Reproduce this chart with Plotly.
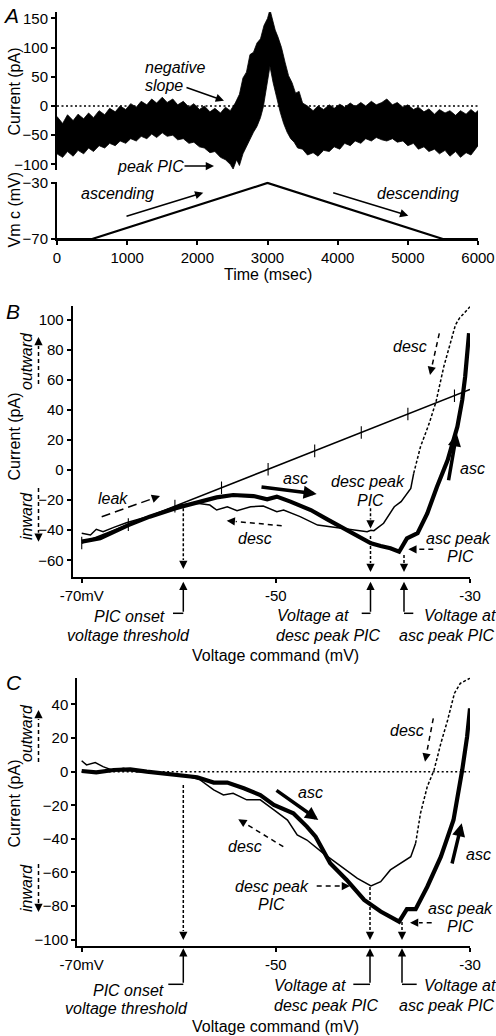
import math
import plotly.graph_objects as go

W, H = 496, 1036
FONT = "Liberation Sans"

# ---------------- DATA ----------------
# Panel A: current trace envelope (noisy record), time in ms, current in pA
upper_time = [0, 80, 150, 230, 300, 380, 450, 520, 600, 680, 750, 830, 900, 980, 1050, 1130, 1200, 1280,
              1350, 1420, 1500, 1570, 1650, 1720, 1800, 1880, 1950, 2030, 2100, 2180, 2250, 2330, 2400, 2470,
              2540, 2600, 2650, 2700, 2750, 2800, 2850, 2900, 2950, 3000, 3035, 3070, 3110, 3150, 3200, 3250,
              3300, 3350, 3400, 3450, 3500, 3570, 3650, 3720, 3800, 3880, 3950, 4030, 4100, 4180, 4250, 4330,
              4400, 4480, 4550, 4630, 4700, 4780, 4850, 4930, 5000, 5080, 5150, 5230, 5300, 5380, 5450, 5530,
              5600, 5680, 5750, 5830, 5900, 5960, 6000]
upper_current = [-18, -30, -15, -25, -14, -22, -12, -20, -8, -15, -4, -10, 0, -6, 4, -2, 8, 2,
                 12, 5, 15, 6, 12, 2, 8, -2, 4, -6, 0, -10, -4, -12, -2, -8,
                 5, 20, 48, 58, 88, 92, 108, 115, 138, 150, 165, 150, 130, 118, 100, 75,
                 52, 40, 22, 25, 5, 0, -8, 0, -6, 2, -4, 3, -2, 5, -1, 6,
                 0, 8, 2, 6, 12, 2, 6, -2, 2, -6, -2, -10, -5, -14, -6, -12,
                 -8, -16, -8, -14, -6, -12, -8]
lower_time = [0, 80, 150, 230, 300, 380, 450, 520, 600, 680, 750, 830, 900, 980, 1050, 1130, 1200, 1280,
              1350, 1420, 1500, 1570, 1650, 1720, 1800, 1880, 1950, 2030, 2100, 2180, 2250, 2330, 2400, 2470,
              2510, 2560, 2600, 2650, 2700, 2750, 2800, 2850, 2900, 2940, 2990, 3035, 3080, 3130, 3180, 3230,
              3280, 3330, 3380, 3430, 3500, 3570, 3650, 3720, 3800, 3880, 3950, 4030, 4100, 4180, 4250, 4330,
              4400, 4480, 4550, 4630, 4700, 4780, 4850, 4930, 5000, 5080, 5150, 5230, 5300, 5380, 5450, 5530,
              5600, 5680, 5750, 5830, 5900, 5960, 6000]
lower_current = [-82, -88, -78, -86, -76, -82, -72, -78, -68, -72, -64, -68, -60, -64, -56, -60, -52, -56,
                 -48, -54, -46, -52, -50, -58, -56, -64, -62, -70, -72, -80, -78, -88, -92, -100,
                 -108, -92, -102, -82, -68, -58, -45, -35, -20, -2, 35, 68, 40, 15, -10, -30,
                 -45, -56, -62, -72, -74, -84, -80, -86, -76, -78, -70, -74, -64, -68, -60, -64,
                 -56, -60, -54, -58, -60, -56, -62, -60, -68, -64, -74, -70, -78, -74, -82, -76,
                 -86, -78, -88, -80, -84, -74, -68]
zero_time = [0, 6000]
zero_current = [0, 0]
ramp_time = [0, 500, 3000, 5500, 6000]
ramp_vm = [-70, -70, -30, -70, -70]

# Panel B: I-V relation (mV, pA)
b_asc_v = [-70, -68.1, -65.2, -63, -60.4, -57.8, -56.1, -54.4, -52.3, -50.9, -49.9, -48.5, -46.4, -44.7,
           -42.7, -41.3, -40.2, -39.2, -38.2, -37.3, -36.5, -35.4, -34.4, -33.4, -32.3, -31.3, -30.8, -30.5, -30.1]
b_asc_i = [-47.6, -45.4, -36.6, -31, -25.5, -21, -18.2, -16.6, -17.3, -19.5, -17.7, -21, -26.6, -32.8,
           -39.9, -44.3, -48.7, -50.5, -52, -54.3, -45.4, -42, -28.8, -11.1, 6.6, 28.8, 46.5, 62, 90.9]
b_desc_v = [-70, -69.1, -68.5, -67.8, -66.7, -65.4, -62.6, -59.9, -58.1, -56.8, -56.1, -55, -54, -52.6,
            -51.3, -49.9, -49.2, -47.5, -45.7, -44, -42.3, -40.6, -40.2, -39.9, -38.9, -37.8, -37.1, -36.1, -35.8]
b_desc_i = [-42, -43.2, -39.4, -41, -38.1, -35, -29.9, -23.3, -22.1, -23.3, -26.6, -24.4, -27, -24.4,
            -23.9, -27.7, -26.6, -31, -36.6, -38.1, -39.4, -41, -40, -40.3, -35.4, -24.4, -21, -12.2, -2.2]
b_desc_dot_v = [-35.8, -35.1, -34.2, -33.5, -32.7, -32, -31.5, -31.1, -30]
b_desc_dot_i = [-2.2, 15.5, 31, 45.4, 68.7, 84.2, 96.4, 100.8, 108.5]
b_leak_v = [-70, -30]
b_leak_i = [-48.5, 53.5]
b_leak_tick_v = [-70, -65.2, -60.4, -55.6, -50.8, -46, -41.2, -36.4, -31.6]
b_leak_tick_i = [-48.5, -36.3, -24.0, -11.8, 0.5, 12.7, 24.9, 37.2, 49.4]

# Panel C: leak-subtracted I-V relation (mV, pA)
c_asc_v = [-70, -68.5, -66.7, -65, -63.3, -61.6, -59.9, -58.1, -56.4, -55, -53.3, -51.6, -50.2, -48.2,
           -46.8, -45.9, -44.4, -42.7, -40.9, -39.2, -37.3, -36.5, -35.6, -34.4, -33, -31.7, -30.8, -30.3, -30]
c_asc_i = [0.4, -0.4, 1, 1.4, 0, -1, -2.6, -3.3, -6.5, -6.5, -9.9, -13.9, -19.8, -24.8,
           -32.7, -38.7, -54.5, -64.5, -76.4, -83.3, -89.3, -81.9, -81.9, -68.5, -50.6, -28.8, 1, 20.8, 37.7]
c_desc_v = [-70, -69.5, -68.6, -67.8, -66.7, -65.7, -64.3, -62.6, -60.9, -59.2, -57.8, -56.4, -55.4, -54.4,
            -53, -51.6, -50.2, -48.8, -47.8, -46.8, -45.1, -43.3, -41.6, -40.2, -39.2, -38.2, -37.2, -36.1, -35.6]
c_desc_i = [6.5, 4, 5.4, 3, 0.6, 2, 0, 0, -1.4, -2.6, -4.9, -10.9, -13.9, -12.9,
            -16.8, -16.8, -22.8, -28.8, -37.7, -40.7, -48.6, -56.5, -63.5, -68, -65.5, -58.5, -54.5, -50.6, -42.6]
c_desc_dot_v = [-35.6, -35.1, -34.4, -33.7, -33, -32.3, -31.6, -31, -30]
c_desc_dot_i = [-42.6, -24.8, -8.9, 1, 16.9, 30.8, 46.7, 52.6, 55.6]
c_zero_v = [-70, -30]
c_zero_i = [0, 0]

# Tick labels
a_current_ticks = [-100, -50, 0, 50, 100, 150]
a_vm_ticks = [-70, -30]
a_time_ticks = [0, 1000, 2000, 3000, 4000, 5000, 6000]
iv_v_ticks = [-70, -50, -30]
iv_v_labels = ["-70mV", "-50", "-30"]
b_i_ticks = [-60, -40, -20, 0, 20, 40, 60, 80, 100]
c_i_ticks = [-100, -80, -60, -40, -20, 0, 20, 40]

# ---------------- LAYOUT GEOMETRY (pixels) ----------------
PANELS = {
    "A1": dict(px=(57, 478), py=(170.2, 12.0), xr=(0, 6000), yr=(-110, 161)),
    "A2": dict(px=(57, 478), py=(239, 181.6), xr=(0, 6000), yr=(-70, -29)),
    "B": dict(px=(72.7, 470), py=(577.3, 306.0), xr=(-70.93, -30), yr=(-71.3, 109)),
    "C": dict(px=(77.3, 470), py=(946, 677.6), xr=(-70.45, -30), yr=(-103.8, 56)),
}

fig = go.Figure()
BLACK = "black"

# Panel A traces
fig.add_trace(go.Scatter(x=zero_time, y=zero_current, mode="lines", xaxis="x", yaxis="y",
                         line=dict(color=BLACK, width=1.6, dash="2px,2.5px")))
fig.add_trace(go.Scatter(x=upper_time + lower_time[::-1], y=upper_current + lower_current[::-1],
                         mode="lines", fill="toself", fillcolor=BLACK, xaxis="x", yaxis="y",
                         line=dict(color=BLACK, width=0.8)))
fig.add_trace(go.Scatter(x=ramp_time, y=ramp_vm, mode="lines", xaxis="x2", yaxis="y2",
                         line=dict(color=BLACK, width=2.2)))

# Panel B traces
fig.add_trace(go.Scatter(x=b_leak_v, y=b_leak_i, mode="lines", xaxis="x3", yaxis="y3",
                         line=dict(color=BLACK, width=1.5)))
fig.add_trace(go.Scatter(x=b_leak_tick_v, y=b_leak_tick_i, mode="markers", xaxis="x3", yaxis="y3",
                         marker=dict(symbol="line-ns", size=9, line=dict(color=BLACK, width=1.1))))
fig.add_trace(go.Scatter(x=b_desc_v, y=b_desc_i, mode="lines", xaxis="x3", yaxis="y3",
                         line=dict(color=BLACK, width=1.5)))
fig.add_trace(go.Scatter(x=b_desc_dot_v, y=b_desc_dot_i, mode="lines", xaxis="x3", yaxis="y3",
                         line=dict(color=BLACK, width=1.5, dash="3px,2px")))
fig.add_trace(go.Scatter(x=b_asc_v, y=b_asc_i, mode="lines", xaxis="x3", yaxis="y3",
                         line=dict(color=BLACK, width=4.2)))

# Panel C traces
fig.add_trace(go.Scatter(x=c_zero_v, y=c_zero_i, mode="lines", xaxis="x4", yaxis="y4",
                         line=dict(color=BLACK, width=1.5, dash="2px,2.5px")))
fig.add_trace(go.Scatter(x=c_desc_v, y=c_desc_i, mode="lines", xaxis="x4", yaxis="y4",
                         line=dict(color=BLACK, width=1.5)))
fig.add_trace(go.Scatter(x=c_desc_dot_v, y=c_desc_dot_i, mode="lines", xaxis="x4", yaxis="y4",
                         line=dict(color=BLACK, width=1.5, dash="3px,2px")))
fig.add_trace(go.Scatter(x=c_asc_v, y=c_asc_i, mode="lines", xaxis="x4", yaxis="y4",
                         line=dict(color=BLACK, width=4.2)))


def dom(p):
    g = PANELS[p]
    return [g["px"][0] / W, g["px"][1] / W], [1 - g["py"][0] / H, 1 - g["py"][1] / H]


tickfont = dict(family=FONT, size=15, color=BLACK)
common = dict(showline=True, linecolor=BLACK, linewidth=2, ticks="outside", ticklen=4, tickwidth=2,
              tickcolor=BLACK, showgrid=False, zeroline=False, tickfont=tickfont, fixedrange=True,
              automargin=False)

xd, yd = dom("A1")
layout = dict(
    xaxis=dict(domain=xd, range=PANELS["A1"]["xr"], anchor="y", visible=False, fixedrange=True),
    yaxis=dict(domain=yd, range=PANELS["A1"]["yr"], anchor="x", tickvals=a_current_ticks, **common),
)
xd, yd = dom("A2")
layout["xaxis2"] = dict(domain=xd, range=PANELS["A2"]["xr"], anchor="y2", tickvals=a_time_ticks, **common)
layout["yaxis2"] = dict(domain=yd, range=PANELS["A2"]["yr"], anchor="x2", tickvals=a_vm_ticks, **common)
xd, yd = dom("B")
layout["xaxis3"] = dict(domain=xd, range=PANELS["B"]["xr"], anchor="y3", tickvals=iv_v_ticks,
                        ticktext=iv_v_labels, **common)
layout["yaxis3"] = dict(domain=yd, range=PANELS["B"]["yr"], anchor="x3", tickvals=b_i_ticks, **common)
xd, yd = dom("C")
layout["xaxis4"] = dict(domain=xd, range=PANELS["C"]["xr"], anchor="y4", tickvals=iv_v_ticks,
                        ticktext=iv_v_labels, **common)
layout["yaxis4"] = dict(domain=yd, range=PANELS["C"]["yr"], anchor="x4", tickvals=c_i_ticks, **common)

# ---------------- ANNOTATIONS (pixel placement) ----------------
ann, shp = [], []


def P(px, py):
    return px / W, 1 - py / H


def text(s, px, py, size=16, italic=True, anchor="center", angle=0):
    x, y = P(px, py)
    ann.append(dict(text=f"<i>{s}</i>" if italic else s, x=x, y=y, xref="paper", yref="paper",
                    xanchor=anchor, yanchor="middle", showarrow=False, textangle=angle,
                    font=dict(family=FONT, size=size, color=BLACK)))


def line(a, b, width=1.5, dash=None):
    x0, y0 = P(*a)
    x1, y1 = P(*b)
    shp.append(dict(type="line", xref="paper", yref="paper", x0=x0, y0=y0, x1=x1, y1=y1,
                    line=dict(color=BLACK, width=width, dash=dash or "solid")))


def arrow(tail, head, width=1.5, size=1.1, dash=None):
    tx, ty = tail
    hx, hy = head
    if dash:
        L = math.hypot(hx - tx, hy - ty)
        back = min(9, L * 0.5)
        mx = hx - (hx - tx) / L * back
        my = hy - (hy - ty) / L * back
        line((tx, ty), (mx, my), width, dash)
        tx, ty = mx, my
    x, y = P(hx, hy)
    ann.append(dict(text="", x=x, y=y, xref="paper", yref="paper", ax=tx - hx, ay=ty - hy,
                    axref="pixel", ayref="pixel", showarrow=True, arrowhead=2, arrowsize=size,
                    arrowwidth=width, arrowcolor=BLACK, standoff=0))


DASH = "5px,4px"
DOT = "3px,2px"
THICK = dict(width=3.5, size=0.75)
SIDE_TXT_X = 26
SIDE_ARR_X = 38.5

# Panel A
text("A", 11, 15, size=21)
text("Current (pA)", 13.5, 92, italic=False, angle=-90)
text("Vm c (mV)", 13.5, 210, italic=False, angle=-90)
text("Time (msec)", 268, 274, italic=False)
text("negative", 143, 67, anchor="left")
text("slope", 143, 86, anchor="left")
arrow((185, 87), (224, 100.7))
text("peak PIC", 115, 167, anchor="left")
arrow((183, 166), (214, 166))
text("ascending", 79, 194, anchor="left")
arrow((125, 216.7), (203.3, 192.7))
text("descending", 375, 194, anchor="left")
arrow((331.7, 192.3), (408.3, 215.7))

# Panel B
text("B", 13, 311, size=21)
text("Current (pA)", 13.5, 437, italic=False, angle=-90)
text("outward", SIDE_TXT_X, 361, angle=-90)
arrow((SIDE_ARR_X, 384), (SIDE_ARR_X, 337), dash="4px,3px")
text("inward", SIDE_TXT_X, 516, angle=-90)
arrow((SIDE_ARR_X, 488), (SIDE_ARR_X, 541.7), dash="4px,3px")
text("leak", 113.3, 498.3)
arrow((101.7, 516.7), (160, 496), dash="9px,5px")
text("asc", 295, 478.3)
arrow((260, 486.7), (316.7, 494), **THICK)
text("desc", 255, 538.3)
arrow((281.7, 525.7), (226.7, 520.7), dash=DASH)
text("desc peak", 368.3, 481.7)
text("PIC", 370, 500.7)
arrow((370.5, 508.3), (370.5, 528.5), dash=DOT)
arrow((183.3, 508.3), (183.3, 569), dash=DOT)
arrow((370.5, 536), (370.5, 572), dash=DOT)
arrow((404, 555), (404, 572), dash=DOT)
text("desc", 410, 346.7)
arrow((439.3, 333.3), (430, 375), dash=DASH)
text("asc", 472, 468.3)
arrow((448.3, 481.7), (456.7, 433.3), **THICK)
text("asc peak", 458.3, 538.3)
text("PIC", 460, 556)
arrow((433.3, 549.3), (408.3, 549.3), dash=DASH)
line((173, 613.3), (183.3, 613.3))
arrow((183.3, 613.3), (183.3, 581.7))
line((361.7, 613.3), (370.5, 613.3))
arrow((370.5, 613.3), (370.5, 581.7))
line((413.3, 613.3), (404, 613.3))
arrow((404, 613.3), (404, 581.7))
text("PIC onset", 129, 616.7)
text("voltage threshold", 128.3, 635)
text("Voltage at", 312.5, 615)
text("desc peak PIC", 328.3, 635)
text("Voltage at", 460, 615)
text("asc peak PIC", 447, 635)
text("Voltage command (mV)", 275, 655, italic=False)

# Panel C
text("C", 14, 682, size=21)
text("Current (pA)", 13.5, 804, italic=False, angle=-90)
text("outward", SIDE_TXT_X, 733, angle=-90)
arrow((SIDE_ARR_X, 762), (SIDE_ARR_X, 710), dash="4px,3px")
text("inward", SIDE_TXT_X, 888, angle=-90)
arrow((SIDE_ARR_X, 864), (SIDE_ARR_X, 912), dash="4px,3px")
text("asc", 310, 792.7)
arrow((275, 789.3), (318.3, 820), **THICK)
text("desc", 245, 846.7)
arrow((283.3, 846.7), (238.3, 819.3), dash=DASH)
text("desc peak", 271.7, 886)
text("PIC", 271.7, 904)
arrow((316.7, 886), (350, 886), dash=DASH)
arrow((183.3, 785), (183.3, 940), dash=DOT)
arrow((370, 887), (370, 940), dash=DOT)
arrow((402, 922), (402, 940), dash=DOT)
text("desc", 406.7, 730)
arrow((433.3, 718.3), (425, 761.7), dash=DASH)
text("asc", 478.3, 854)
arrow((451.7, 865), (461.7, 823.3), **THICK)
text("asc peak", 460, 908.3)
text("PIC", 460, 926.7)
arrow((431.7, 922.7), (410, 922.7), dash=DASH)
line((168.3, 984.3), (183.3, 984.3))
arrow((183.3, 984.3), (183.3, 948.3))
line((353.3, 984.3), (370, 984.3))
arrow((370, 984.3), (370, 948.3))
line((416.7, 984.3), (402, 984.3))
arrow((402, 984.3), (402, 948.3))
text("PIC onset", 128.3, 990)
text("voltage threshold", 126.7, 1008.3)
text("Voltage at", 310, 985.7)
text("desc peak PIC", 326.7, 1005)
text("Voltage at", 460, 985.7)
text("asc peak PIC", 446.7, 1005)
text("Voltage command (mV)", 275, 1026.7, italic=False)

layout.update(dict(width=W, height=H, margin=dict(l=0, r=0, t=0, b=0, pad=0, autoexpand=False),
                   showlegend=False, paper_bgcolor="white", plot_bgcolor="white", hovermode=False,
                   annotations=ann, shapes=shp, font=dict(family=FONT, color=BLACK)))
fig.update_layout(**layout)
fig.write_html("out.html", config={"displayModeBar": False, "staticPlot": True},
               post_script="document.body.style.margin='0';document.body.style.overflow='hidden';")
